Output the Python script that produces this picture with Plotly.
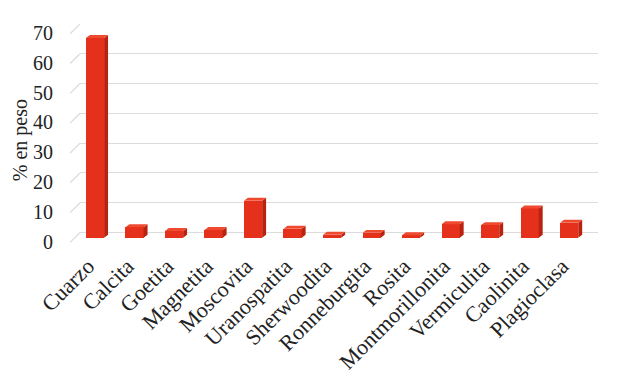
import plotly.graph_objects as go

minerales = ["Cuarzo", "Calcita", "Goetita", "Magnetita", "Moscovita", "Uranospatita",
             "Sherwoodita", "Ronneburgita", "Rosita", "Montmorillonita", "Vermiculita",
             "Caolinita", "Plagioclasa"]
porcentaje = [67, 3.5, 2.2, 2.6, 12.4, 3.0, 1.0, 1.6, 0.8, 4.5, 4.2, 9.8, 5.0]
y_ticks = [0, 10, 20, 30, 40, 50, 60, 70]

FONT = "Liberation Serif, Times New Roman, serif"
FRONT = "#E5311B"
SIDE = "#B8220F"
TOP = "#EE4A30"

# 3-D look parameters (in axis units)
W = 0.46        # bar front width (category units)
OFF = -0.28     # front face offset from category centre
DX = 0.10       # depth shift in x
DY = 1.0        # depth shift in y
FLOOR = -1.7    # front faces start slightly in front of the back wall

xs = list(range(len(minerales)))

fig = go.Figure()

side_x, side_y, top_x, top_y = [], [], [], []
for i, v in zip(xs, porcentaje):
    x0 = i + OFF
    x1 = x0 + W
    yb = FLOOR
    yt = FLOOR + v
    side_x += [x1, x1 + DX, x1 + DX, x1, x1, None]
    side_y += [yb, yb + DY, yt + DY, yt, yb, None]
    top_x += [x0, x0 + DX, x1 + DX, x1, x0, None]
    top_y += [yt, yt + DY, yt + DY, yt, yt, None]

fig.add_trace(go.Bar(
    x=xs, y=porcentaje, base=FLOOR, width=W, offset=OFF,
    marker=dict(color=FRONT, line=dict(width=0)),
    hoverinfo="skip", showlegend=False,
))
fig.add_trace(go.Scatter(
    x=side_x, y=side_y, fill="toself", fillcolor=SIDE, mode="lines",
    line=dict(width=0, color=SIDE), hoverinfo="skip", showlegend=False,
))
fig.add_trace(go.Scatter(
    x=top_x, y=top_y, fill="toself", fillcolor=TOP, mode="lines",
    line=dict(width=0, color=TOP), hoverinfo="skip", showlegend=False,
))

shapes = []
for t in y_ticks:
    shapes.append(dict(type="line", xref="x domain", yref="y",
                       x0=-0.019, y0=t - 3.3, x1=0, y1=t,
                       line=dict(color="#DCDCDC", width=1.3), layer="below"))

fig.update_layout(
    width=625, height=376,
    margin=dict(l=72, r=35, t=15, b=141),
    paper_bgcolor="white", plot_bgcolor="white",
    font=dict(family=FONT, size=20, color="#222222"),
    shapes=shapes,
    bargap=0,
    annotations=[dict(text="% en peso", xref="paper", yref="paper",
                      x=-0.116, y=0.467, textangle=-90, showarrow=False,
                      xanchor="center", yanchor="middle",
                      font=dict(family=FONT, size=20, color="#222222"))],
)
fig.update_xaxes(
    range=[-0.43, 12.68], automargin=False,
    tickmode="array", tickvals=xs, ticktext=minerales,
    tickangle=-45, showgrid=False, zeroline=False, showline=False,
    ticks="", ticklabelshift=-9, ticklabelstandoff=5,
    tickfont=dict(family=FONT, size=22, color="#222222"),
)
fig.update_yaxes(
    range=[-3.5, 70.3], automargin=False,
    tickmode="array", tickvals=y_ticks,
    showgrid=True, gridcolor="#DCDCDC", gridwidth=1.3,
    zeroline=False, showline=False, ticks="",
    ticklabelshift=9, ticklabelstandoff=26,
    tickfont=dict(family=FONT, size=20, color="#222222"),
)

fig.write_html("out.html")
